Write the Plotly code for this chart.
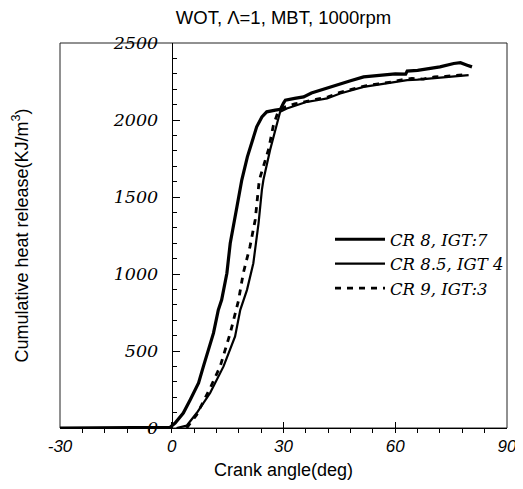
import plotly.graph_objects as go

# ---- data ----
cr8_x = [-30, -20, -10, -3, -0.5, 0.9, 3.1, 5.0, 7.2, 8.5, 11.2, 12.5, 13.4, 14.8, 15.7, 17.5, 18.8,
         20.3, 22.8, 24.2, 25.5, 27.8, 29.2, 30.0, 30.5, 33.0, 35.4, 37.5, 39.9, 42.5, 45.2, 48.0,
         51.5, 54.0, 57.0, 60.0, 62.8, 63.2, 66.0, 69.4, 72.0, 75.7, 77.5, 79.3, 80.6]
cr8_y = [0, 0, 0, 0, 4, 32, 97, 185, 292, 400, 616, 767, 832, 1005, 1200, 1437, 1610,
         1761, 1956, 2020, 2053, 2064, 2070, 2110, 2129, 2140, 2150, 2175, 2194, 2215, 2237, 2255,
         2280, 2285, 2290, 2300, 2298, 2318, 2322, 2335, 2345, 2367, 2372, 2356, 2345]

cr85_x = [1.3, 4.0, 6.7, 10.3, 13.9, 17.0, 18.4, 19.2, 20.2, 21.9, 23.3, 24.2, 24.6, 26.4, 28.2,
          29.1, 30.9, 33.5, 36.3, 39.0, 41.7, 45.2, 48.0, 51.5, 55.0, 58.0, 61.0, 63.2, 66.0,
          69.4, 72.5, 75.7, 78.0, 79.7]
cr85_y = [0, 15, 97, 227, 400, 594, 767, 832, 897, 1070, 1329, 1546, 1610, 1805, 1978,
          2053, 2075, 2098, 2118, 2128, 2140, 2172, 2192, 2215, 2228, 2240, 2252, 2259, 2262,
          2270, 2276, 2280, 2286, 2291]

cr9_x = [4.0, 6.7, 10.3, 13.0, 15.7, 17.9, 19.2, 21.0, 22.4, 23.5, 26.0, 27.3, 28.7, 30.5,
         33.0, 36.0, 39.0, 42.0, 45.0, 48.5, 52.0, 55.5, 59.0, 62.0, 64.5, 67.5, 70.5, 73.5,
         76.5, 79.0]
cr9_y = [0, 86, 259, 400, 616, 826, 1005, 1178, 1351, 1610, 1810, 1967, 2064, 2085,
         2105, 2122, 2135, 2150, 2178, 2200, 2222, 2235, 2246, 2262, 2270, 2266, 2280, 2283,
         2290, 2296]

series_names = ["CR 8, IGT:7", "CR 8.5, IGT 4", "CR 9, IGT:3"]
x_ticks = [-30, 0, 30, 60, 90]
x_tick_labels = ["-30", "0", "30", "60", "90"]
y_ticks = [0, 500, 1000, 1500, 2000, 2500]

# page body has an 8px margin: figure drawn 8px right/down of the window corner
W, H = 515, 481
L, T, R, B = 52, 35, 16, 61
PW, PH = W - L - R, H - T - B

fig = go.Figure()
fig.add_trace(go.Scatter(x=cr8_x, y=cr8_y, mode="lines", name=series_names[0],
                         line=dict(color="black", width=3.2)))
fig.add_trace(go.Scatter(x=cr85_x, y=cr85_y, mode="lines", name=series_names[1],
                         line=dict(color="black", width=2.2)))
fig.add_trace(go.Scatter(x=cr9_x, y=cr9_y, mode="lines", name=series_names[2],
                         line=dict(color="black", width=2.8, dash="6px,6px")))

fig.update_layout(
    width=W, height=H,
    margin=dict(l=L, r=R, t=T, b=B, autoexpand=False),
    paper_bgcolor="white", plot_bgcolor="white",
    title=dict(text="WOT, \u039b=1, MBT, 1000rpm", x=0.5, xref="paper", xanchor="center",
               y=1 - 10 / H, yref="container", yanchor="middle",
               font=dict(family="Liberation Sans", size=18.5, color="black")),
    showlegend=True,
    legend=dict(x=(330 - 8 - L) / PW, y=1 - (222 - 8 - T) / PH, xanchor="left", yanchor="top",
                bgcolor="rgba(0,0,0,0)", itemwidth=50,
                font=dict(family="DejaVu Serif", size=16.5, color="black", style="italic"),
                tracegroupgap=0),
    xaxis=dict(range=[-30, 90], tickvals=x_ticks, ticktext=x_tick_labels,
               showgrid=False, zeroline=False,
               showline=True, linecolor="black", linewidth=1,
               ticks="inside", ticklen=6, tickcolor="black",
               minor=dict(dtick=6, tick0=-30, ticks="outside", ticklen=4, tickcolor="black"),
               ticklabelstandoff=3,
               tickfont=dict(family="Liberation Sans", size=17, color="black", style="italic")),
    yaxis=dict(range=[0, 2500], tickvals=y_ticks, showgrid=False, zeroline=False,
               anchor="free", position=0.25,
               showline=True, linecolor="black", linewidth=1,
               ticks="inside", ticklen=7, tickcolor="black",
               minor=dict(dtick=100, ticks="inside", ticklen=4, tickcolor="black"),
               ticklabelstandoff=10,
               tickfont=dict(family="DejaVu Serif", size=17.5, color="black", style="italic")),
    shapes=[dict(type="rect", xref="paper", yref="paper", x0=0, x1=1, y0=0, y1=1,
                 line=dict(color="#222", width=1), layer="below")],
    annotations=[
        dict(text="Crank angle(deg)", xref="paper", yref="paper", x=0.5,
             y=-(470 - 8 - (H - B)) / PH,
             xanchor="center", yanchor="middle", showarrow=False,
             font=dict(family="Liberation Sans", size=18, color="black")),
        dict(text="Cumulative heat release(KJ/m<sup>3</sup>)", xref="paper", yref="paper",
             x=(21 - 8 - L) / PW, y=0.5, textangle=-90, xanchor="center", yanchor="middle",
             showarrow=False, font=dict(family="Liberation Sans", size=18, color="black")),
    ],
)

fig.write_html("out.html")
